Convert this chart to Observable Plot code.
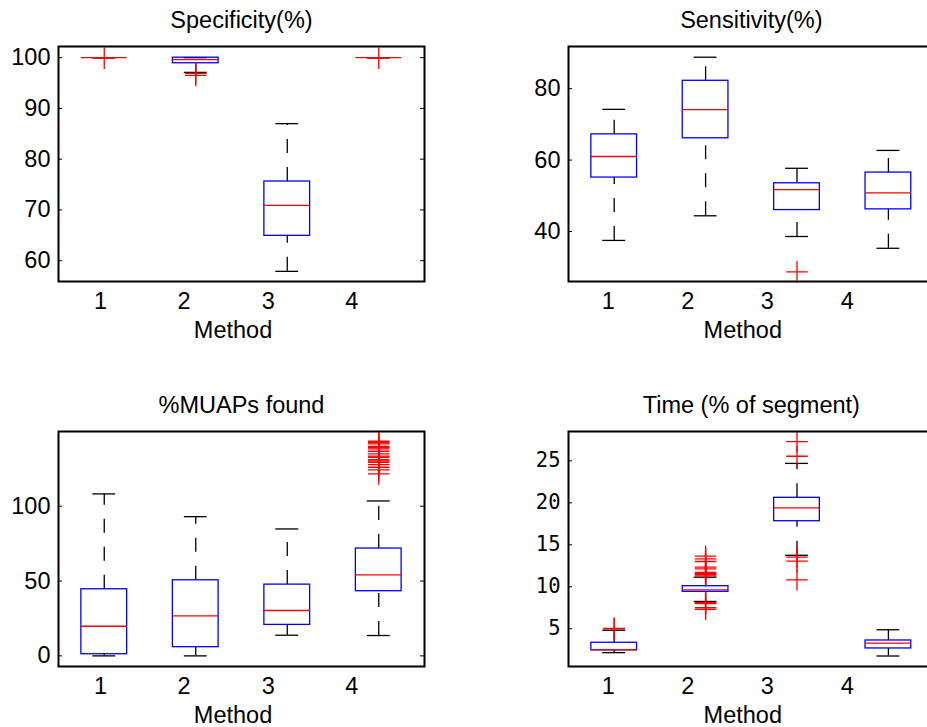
<!DOCTYPE html>
<html><head><meta charset="utf-8">
<script src="https://cdn.jsdelivr.net/npm/d3@7"></script>
<script src="https://cdn.jsdelivr.net/npm/@observablehq/plot@0.6"></script>
<style>
html,body{margin:0;padding:0;background:#fff;overflow:hidden}
#fig{position:relative;width:927px;height:727px;overflow:hidden;background:#fff}
#fig svg{position:absolute;overflow:visible}
</style></head>
<body><div id="fig"></div>
<script>
// ---- data ----
const methods = [1, 2, 3, 4];
const xLabels = ["1", "2", "3", "4"];
const xLabelPosLeft = [0.959, 1.873, 2.793, 3.704];
const xLabelPosRight = [0.934, 1.804, 2.674, 3.549];
const xTitle = "Method";

const specTitle = "Specificity(%)";
const specLo  = [100, 97.1, 57.9, 100];
const specQ1  = [100, 98.9, 64.9, 100];
const specMed = [100, 99.6, 70.9, 100];
const specQ3  = [100, 100, 75.6, 100];
const specHi  = [100, 100, 87.0, 100];
const specOut = [[99.9], [96.9, 96.5], [], [99.9]];
const specTicks = [60, 70, 80, 90, 100];

const sensTitle = "Sensitivity(%)";
const sensLo  = [37.5, 44.4, 38.6, 35.3];
const sensQ1  = [55.1, 66.1, 46.0, 46.2];
const sensMed = [61.0, 74.1, 51.7, 50.8];
const sensQ3  = [67.2, 82.2, 53.5, 56.5];
const sensHi  = [74.2, 88.8, 57.7, 62.7];
const sensOut = [[], [], [28.7], []];
const sensTicks = [40, 60, 80];

const muapTitle = "%MUAPs found";
const muapLo  = [0, 0, 13.8, 13.6];
const muapQ1  = [1.1, 5.8, 20.7, 43.2];
const muapMed = [19.8, 26.7, 30.3, 54.1];
const muapQ3  = [44.5, 50.5, 47.6, 71.7];
const muapHi  = [108.2, 93.0, 84.8, 103.5];
const muapOut = [[], [], [], [143.4, 142.5, 141.6, 140.0, 139.2, 138.3, 136.7, 134.9, 133.5, 132.7, 131.1, 130.2, 129.3, 127.8, 126.0, 124.2, 121.6]];
const muapTicks = [0, 50, 100];

const timeTitle = "Time (% of segment)";
const timeLo  = [2.15, 8.25, 13.75, 1.75];
const timeQ1  = [2.42, 9.40, 17.81, 2.65];
const timeMed = [2.50, 9.64, 19.40, 3.28];
const timeQ3  = [3.33, 10.07, 20.60, 3.60];
const timeHi  = [4.82, 11.14, 24.70, 4.88];
const timeOut = [[5.0, 5.05], [13.64, 13.33, 13.01, 12.33, 12.14, 11.7, 11.55, 11.45, 11.3, 8.1, 8.0, 7.5, 7.3], [27.3, 25.55, 13.53, 13.05, 10.83], []];
const timeTicks = [5, 10, 15, 20, 25];

// ---- drawing ----
const FONT = "'Liberation Sans', Arial, Helvetica, sans-serif";
const MONO = "'DejaVu Sans Mono', monospace";

function panel(cfg) {
  const rows = methods.map((m, i) => ({m, lo: cfg.lo[i], q1: cfg.q1[i], med: cfg.med[i], q3: cfg.q3[i], hi: cfg.hi[i]}));
  const outs = cfg.out.flatMap((arr, i) => arr.map(v => ({m: methods[i], v})));
  const frameW = cfg.width - cfg.ml - cfg.mr;
  const labels = cfg.xpos.map((p, i) => ({p, t: xLabels[i]}));
  const svg = Plot.plot({
    width: cfg.width, height: cfg.height,
    marginLeft: cfg.ml, marginRight: cfg.mr, marginTop: cfg.mt, marginBottom: cfg.mb,
    style: {fontFamily: FONT, fontSize: "23.5px", background: "transparent", overflow: "visible"},
    x: {type: "linear", domain: [0.5, 4.5], axis: null},
    y: {type: "linear", domain: cfg.domain, axis: null},
    marks: [
      // whiskers (dash pattern starts at the lower end)
      Plot.ruleX(rows, {x: "m", y1: "q3", y2: "hi", stroke: "#000", strokeWidth: 1.3, strokeDasharray: "14,14"}),
      Plot.ruleX(rows, {x: "m", y1: "lo", y2: "q1", stroke: "#000", strokeWidth: 1.3, strokeDasharray: "14,14"}),
      Plot.ruleY(rows, {y: "hi", x1: d => d.m - 0.125, x2: d => d.m + 0.125, stroke: "#000", strokeWidth: 1.3}),
      Plot.ruleY(rows, {y: "lo", x1: d => d.m - 0.125, x2: d => d.m + 0.125, stroke: "#000", strokeWidth: 1.3}),
      Plot.rect(rows, {x1: d => d.m - 0.25, x2: d => d.m + 0.25, y1: "q1", y2: "q3", fill: "none", stroke: "#0000ff", strokeWidth: 1.3}),
      Plot.ruleY(rows, {y: "med", x1: d => d.m - 0.25, x2: d => d.m + 0.25, stroke: "#ff0000", strokeWidth: 1.3}),
      Plot.dot(outs, {x: "m", y: "v", symbol: "plus", r: 7, stroke: "#ff0000", strokeWidth: 1.3}),
      // inner tick marks
      Plot.tickY(cfg.ticks, {y: d => d, insetRight: frameW - 4, stroke: "#000", strokeWidth: 1}),
      Plot.tickY(cfg.ticks, {y: d => d, insetLeft: frameW - 4, stroke: "#000", strokeWidth: 1}),
      Plot.frame({stroke: "#000", strokeWidth: 2}),
      // y tick labels
      Plot.text(cfg.ticks, {y: d => d, text: d => String(d), frameAnchor: "left", dx: -8, textAnchor: "end", lineAnchor: "middle",
        fontFamily: cfg.mono ? MONO : FONT, fontSize: cfg.mono ? 20.5 : 23.5}),
      // x tick labels
      Plot.text(labels, {x: "p", text: "t", frameAnchor: "bottom", dy: 27, lineAnchor: "bottom", fontSize: 23.5}),
      // x title
      Plot.text([xTitle], {frameAnchor: "bottom", dy: 56, dx: -8.5, lineAnchor: "bottom", fontSize: 23.5}),
      // panel title
      Plot.text([cfg.title], {frameAnchor: "top", dy: -19, lineAnchor: "bottom", fontSize: 23.5})
    ]
  });
  svg.style.left = cfg.left + "px";
  svg.style.top = cfg.top + "px";
  document.getElementById("fig").appendChild(svg);
}

const L = {width: 440, ml: 58, mr: 16};
const R = {width: 480, ml: 108, mr: 6.4};
const T = {top: 0, height: 350, mt: 46, mb: 69};
const B = {top: 360, height: 367, mt: 71, mb: 61};

panel({...L, ...T, left: 0, title: specTitle, lo: specLo, q1: specQ1, med: specMed, q3: specQ3, hi: specHi, out: specOut, ticks: specTicks, domain: [55.9, 102.2], xpos: xLabelPosLeft});
panel({...R, ...T, left: 460, title: sensTitle, lo: sensLo, q1: sensQ1, med: sensMed, q3: sensQ3, hi: sensHi, out: sensOut, ticks: sensTicks, domain: [26, 91.8], xpos: xLabelPosRight});
panel({...L, ...B, left: 0, title: muapTitle, lo: muapLo, q1: muapQ1, med: muapMed, q3: muapQ3, hi: muapHi, out: muapOut, ticks: muapTicks, domain: [-7.1, 149.9], xpos: xLabelPosLeft});
panel({...R, ...B, left: 460, title: timeTitle, lo: timeLo, q1: timeQ1, med: timeMed, q3: timeQ3, hi: timeHi, out: timeOut, ticks: timeTicks, domain: [0.5, 28.5], xpos: xLabelPosRight, mono: true});
</script>
</body></html>
